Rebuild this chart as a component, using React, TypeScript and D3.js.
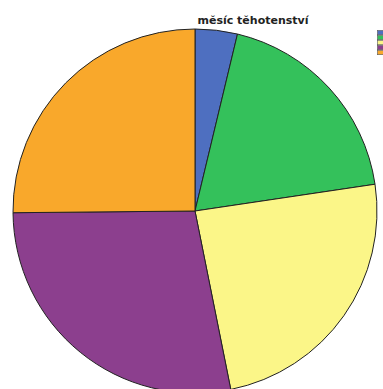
import React from "react";
import * as d3 from "d3";

const categories = ["1", "2", "3", "4", "5"];
const values = [3.75, 18.9, 24.2, 28.0, 25.15];
const colors = ["#4e6fc0", "#34c15b", "#fbf688", "#8c3f8e", "#f9a82b"];
const title = "měsíc těhotenství";

export default function App() {
  const W = 383, H = 389;
  const cx = 195, cy = 211, r = 182;
  const pie = d3.pie<number>().sort(null).value((d) => d)(values);
  const arc = d3.arc<d3.PieArcDatum<number>>().innerRadius(0).outerRadius(r);
  return (
    <svg width={W} height={H} style={{ position: "fixed", left: 0, top: 0, background: "#fff" }}>
      <g transform={`translate(${cx},${cy})`}>
        {pie.map((p, i) => (
          <path key={categories[i]} d={arc(p) || ""} fill={colors[i]} stroke="#222" strokeWidth={1} />
        ))}
      </g>
      <text x={253} y={24} textAnchor="middle" fontFamily="DejaVu Sans" fontWeight="bold" fontSize={11} fill="#222">
        {title}
      </text>
      {categories.map((c, i) => (
        <rect key={c} x={377.5} y={30.5 + i * 5} width={8} height={4.2} fill={colors[i]} stroke="#555" strokeWidth={0.6} />
      ))}
    </svg>
  );
}
